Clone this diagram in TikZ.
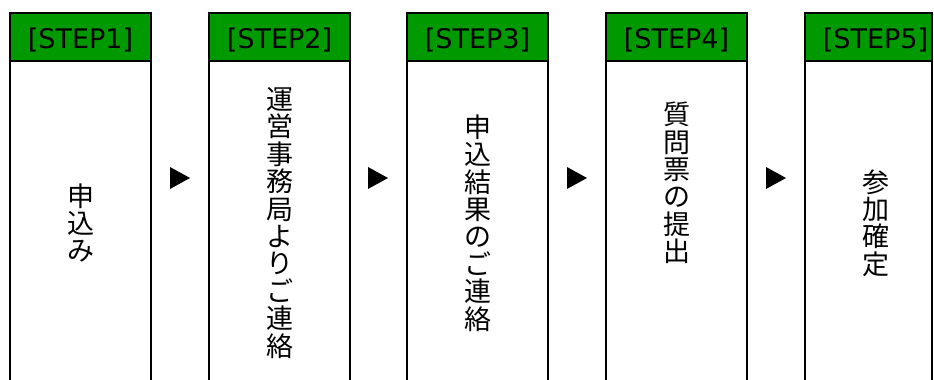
\documentclass[tikz,border=0pt]{standalone}
\usepackage{fontspec}
\setmainfont{DejaVu Sans}
\newfontfamily\jpfont{Noto Sans CJK JP}
\definecolor{stepgreen}{RGB}{0,153,0}

\begin{document}
\begin{tikzpicture}[x=1pt, y=1pt, inner sep=0, outer sep=0,
  head/.style={rectangle, draw=black, line width=2pt, fill=stepgreen,
    minimum width=141pt, minimum height=48pt, text height=26pt, text depth=3.5pt,
    font=\fontsize{27}{27}\selectfont, anchor=north west},
  body/.style={rectangle, draw=black, line width=2pt, fill=white,
    align=center, minimum width=141pt, minimum height=324pt,
    font=\jpfont\fontsize{27}{27.4}\selectfont, anchor=north}]
  \useasboundingbox (0,0) rectangle (934,380);
  \clip (0,0) rectangle (934,380);

  \node[head] (head1) at (10,367) {[STEP1]};
  \node[body] (body1) at (head1.south) {申\\込\\み};

  \node[head] (head2) at (209,367) {[STEP2]};
  \node[body] (body2) at (head2.south) {運\\営\\事\\務\\局\\よ\\り\\ご\\連\\絡};

  \node[head] (head3) at (407,367) {[STEP3]};
  \node[body] (body3) at (head3.south) {申\\込\\結\\果\\の\\ご\\連\\絡};

  \node[head] (head4) at (606,367) {[STEP4]};
  \node[body] (body4) at (head4.south) {質\\問\\票\\の\\提\\出\\\mbox{}\\\mbox{}\\\mbox{}};

  % last column is cut off on the right
  \node[head, minimum width=127pt] (head5) at (805,367) {};
  \node[text height=26pt, text depth=3.5pt] (headtxt5) at ([xshift=7pt]head5.center) {\fontsize{27}{27}\selectfont [STEP5]};
  \node[body, minimum width=127pt] (body5) at (head5.south) {};
  \node[align=center, font=\jpfont\fontsize{27}{27.4}\selectfont] (bodytxt5) at ([xshift=7pt]body5.center) {参\\加\\確\\定};

  % arrow marks
  \coordinate (arr1) at (180,202);
  \coordinate (arr2) at (378,202);
  \coordinate (arr3) at (577,202);
  \coordinate (arr4) at (776,202);
  \fill ([xshift=-10pt, yshift=11pt]arr1) -- ([xshift=10pt]arr1) -- ([xshift=-10pt, yshift=-11pt]arr1) -- cycle;
  \fill ([xshift=-10pt, yshift=11pt]arr2) -- ([xshift=10pt]arr2) -- ([xshift=-10pt, yshift=-11pt]arr2) -- cycle;
  \fill ([xshift=-10pt, yshift=11pt]arr3) -- ([xshift=10pt]arr3) -- ([xshift=-10pt, yshift=-11pt]arr3) -- cycle;
  \fill ([xshift=-10pt, yshift=11pt]arr4) -- ([xshift=10pt]arr4) -- ([xshift=-10pt, yshift=-11pt]arr4) -- cycle;
\end{tikzpicture}
\end{document}
